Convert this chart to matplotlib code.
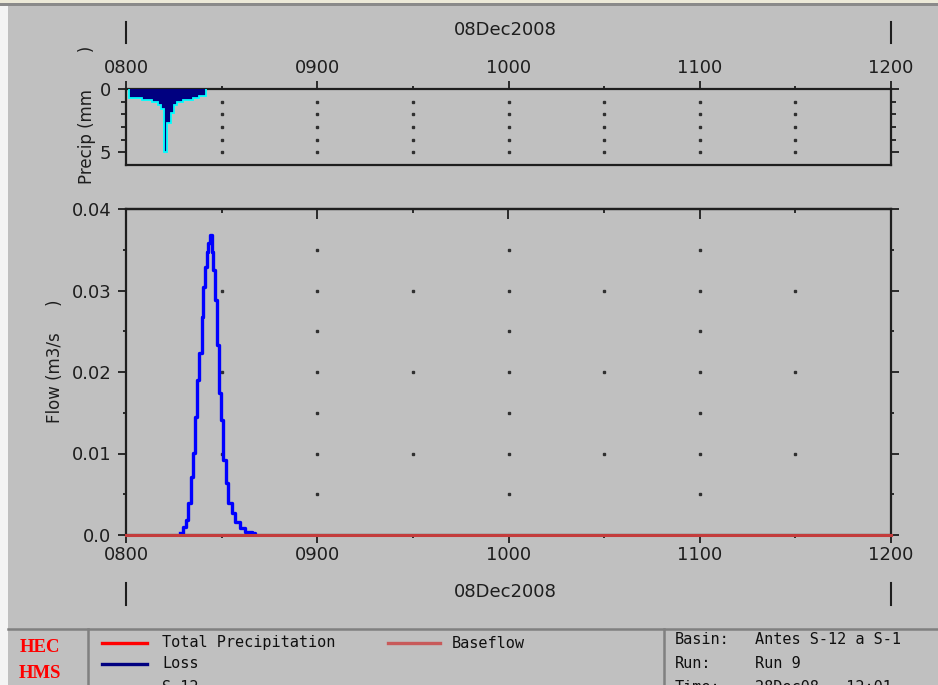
import numpy as np
import matplotlib
matplotlib.use('Agg')
import matplotlib.pyplot as plt
from matplotlib.lines import Line2D
from matplotlib.patches import Rectangle

plt.rcParams['font.family'] = 'DejaVu Sans'

# ── Data (minutes after 08:00 on 08Dec2008) ──
hour_ticks = [0, 60, 120, 180, 240]
hour_labels = ['0800', '0900', '1000', '1100', '1200']
half_hours = [30, 90, 150, 210]

# Precipitation hyetograph, 1-min bins (mm)
precip_edges = list(range(1, 26))
precip_mm = [0.7, 0.7, 0.7, 0.7, 0.86, 0.86, 0.86, 1.0, 1.0, 1.25, 1.56,
             4.97, 2.66, 1.88, 1.25, 1.0, 1.0, 0.86, 0.86, 0.86, 0.7, 0.7,
             0.55, 0.55]

# Outflow hydrograph S-12 (m3/s)
flow_t = [16.9, 17.9, 18.8, 19.5, 20.4, 21.0, 21.6, 22.3, 22.9, 23.8, 24.2,
          24.8, 25.4, 25.7, 26.4, 27.0, 27.3, 27.9, 28.5, 29.2, 29.8, 30.4,
          31.4, 32.0, 33.3, 34.2, 35.8, 37.3, 39.5, 40.5]
flow_s12 = [0.0002, 0.0010, 0.0018, 0.0039, 0.0071, 0.0101, 0.0145, 0.0190,
            0.0223, 0.0267, 0.0304, 0.0329, 0.0347, 0.0358, 0.0368, 0.0347,
            0.0325, 0.0288, 0.0233, 0.0174, 0.0141, 0.0092, 0.0064, 0.0039,
            0.0027, 0.0016, 0.0009, 0.0004, 0.0002, 0.0]
base_t = [0, 240]
base_q = [0.0, 0.0]

legend_labels = ['Total Precipitation', 'Loss', 'S-12', 'Baseflow']
legend_colors = ['#ff0000', '#000080', '#0000ff', '#c85a5a']

BG = '#c0c0c0'
INK = '#1e1e1e'
W, H = 938, 685


def fx(px):
    return px / W


def fy(py):
    return 1 - py / H


def style_spines(ax):
    for s in ax.spines.values():
        s.set_color(INK)
        s.set_linewidth(1.6)


fig = plt.figure(figsize=(W / 100, H / 100), dpi=100, facecolor=BG)

# window frame bits
fig.add_artist(Rectangle((0, 0), fx(8), 1, transform=fig.transFigure,
                         color='#f4f4f4', lw=0))
fig.add_artist(Rectangle((0, fy(3)), 1, fy(0) - fy(3), transform=fig.transFigure,
                         color='#ece9d8', lw=0))
fig.add_artist(Rectangle((0, fy(6)), 1, fy(3) - fy(6), transform=fig.transFigure,
                         color='#8a8a8a', lw=0))

# ── Precip panel ──
ax_p = fig.add_axes([fx(126), fy(165), fx(891) - fx(126), fy(89) - fy(165)])
ax_p.set_facecolor(BG)
ax_p.stairs(precip_mm, precip_edges, fill=True, color='#000080', baseline=0, zorder=3)
ax_p.stairs(precip_mm, precip_edges, color='#00ffff', lw=1.3, baseline=0, zorder=4)
ax_p.set_xlim(0, 240)
ax_p.set_ylim(6, 0)
gx, gy = np.meshgrid(np.arange(30, 240, 30), [1, 2, 3, 4, 5])
ax_p.plot(gx.ravel(), gy.ravel(), ls='none', marker='s', ms=1.5, color='#303030', zorder=1)
ax_p.xaxis.tick_top()
ax_p.set_xticks(hour_ticks)
ax_p.set_xticklabels(hour_labels)
ax_p.set_xticks(half_hours, minor=True)
ax_p.tick_params(axis='x', which='both', top=True, bottom=False, labeltop=True,
                 labelbottom=False, direction='out', colors=INK, labelsize=13,
                 width=1.3, pad=3)
ax_p.tick_params(axis='x', which='major', length=5.5)
ax_p.tick_params(axis='x', which='minor', length=2.5)
ax_p.set_yticks([0, 5])
ax_p.set_yticks([1, 2, 3, 4], minor=True)
ax_p.tick_params(axis='y', which='both', left=True, right=True, direction='out',
                 colors=INK, labelsize=13, width=1.3, pad=5)
ax_p.tick_params(axis='y', which='major', length=5.5)
ax_p.tick_params(axis='y', which='minor', length=3.5)
style_spines(ax_p)

# ── Flow panel ──
ax_f = fig.add_axes([fx(126), fy(535), fx(891) - fx(126), fy(209) - fy(535)])
ax_f.set_facecolor(BG)
hx, hy = np.meshgrid([60, 120, 180], np.arange(0.005, 0.036, 0.005))
ax_f.plot(hx.ravel(), hy.ravel(), ls='none', marker='s', ms=1.5, color='#303030', zorder=1)
mx, my = np.meshgrid(half_hours, [0.01, 0.02, 0.03])
ax_f.plot(mx.ravel(), my.ravel(), ls='none', marker='s', ms=1.5, color='#303030', zorder=1)
ax_f.plot(flow_t, flow_s12, drawstyle='steps-post', color=legend_colors[2], lw=2.4, zorder=3)
ax_f.plot(base_t, base_q, color='#c43c3c', lw=2.2, zorder=4, clip_on=False)
ax_f.set_xlim(0, 240)
ax_f.set_ylim(0, 0.04)
ax_f.set_xticks(hour_ticks)
ax_f.set_xticklabels(hour_labels)
ax_f.set_xticks(half_hours, minor=True)
ax_f.tick_params(axis='x', which='both', direction='out', colors=INK, labelsize=13,
                 width=1.3, pad=2.5)
ax_f.tick_params(axis='x', which='major', length=5.5)
ax_f.tick_params(axis='x', which='minor', length=2.5)
ax_f.set_yticks([0, 0.01, 0.02, 0.03, 0.04])
ax_f.set_yticklabels(['0.0', '0.01', '0.02', '0.03', '0.04'])
ax_f.set_yticks([0.005, 0.015, 0.025, 0.035], minor=True)
ax_f.tick_params(axis='y', which='both', left=True, right=True, direction='out',
                 colors=INK, labelsize=13, width=1.3, pad=5)
ax_f.tick_params(axis='y', which='major', length=5.5)
ax_f.tick_params(axis='y', which='minor', length=2.5)
style_spines(ax_f)
sec = ax_f.secondary_xaxis('top')
sec.set_xticks(hour_ticks)
sec.set_xticks(half_hours, minor=True)
sec.tick_params(axis='x', which='both', direction='in', labeltop=False, colors=INK, width=1.3)
sec.tick_params(axis='x', which='major', length=7)
sec.tick_params(axis='x', which='minor', length=3)
sec.spines['top'].set_color(INK)
sec.spines['top'].set_linewidth(1.6)

# axis labels (rotated)
fig.text(fx(87), fy(115), 'Precip (mm       )', rotation=90, ha='center', va='center',
         fontsize=12, color=INK)
fig.text(fx(55), fy(361), 'Flow (m3/s     )', rotation=90, ha='center', va='center',
         fontsize=12, color=INK)

# date banners
for yt, y0, y1 in [(30, 22, 43), (592, 583, 605)]:
    fig.text(fx(505), fy(yt), '08Dec2008', ha='center', va='center', fontsize=13, color=INK)
    for xb in (126, 891):
        fig.add_artist(Line2D([fx(xb), fx(xb)], [fy(y0), fy(y1)], transform=fig.transFigure,
                              color=INK, lw=1.5))

# ── Legend / info strip ──
fig.add_artist(Line2D([fx(8), 1], [fy(629), fy(629)], transform=fig.transFigure,
                      color='#808080', lw=1.8))
for xv in (88, 664):
    fig.add_artist(Line2D([fx(xv), fx(xv)], [fy(629), 0], transform=fig.transFigure,
                          color='#808080', lw=1.8))

fig.text(fx(40), fy(647), 'HEC', ha='center', va='center', fontsize=13.5, color='#ff0000',
         family='Liberation Serif', fontweight='bold')
fig.text(fx(40), fy(673), 'HMS', ha='center', va='center', fontsize=13.5, color='#ff0000',
         family='Liberation Serif', fontweight='bold')

mono = dict(family='DejaVu Sans Mono', fontsize=11, color='#101010', va='center', ha='left')
entries = [(102, 147, 162, 643), (102, 147, 162, 664), (102, 147, 162, 687), (388, 440, 452, 643)]
for (x0, x1, xt, yy), lab, col in zip(entries, legend_labels, legend_colors):
    fig.add_artist(Line2D([fx(x0), fx(x1)], [fy(yy), fy(yy)], transform=fig.transFigure,
                          color=col, lw=2.4))
    fig.text(fx(xt), fy(yy), lab, **mono)

info = [('Basin:', 'Antes S-12 a S-1', 640), ('Run:', 'Run 9', 664),
        ('Time:', '28Dec08   12:01', 687)]
for key, val, yy in info:
    fig.text(fx(675), fy(yy), key, **mono)
    fig.text(fx(755), fy(yy), val, **mono)

fig.savefig('out.png', dpi=100, facecolor=fig.get_facecolor())
